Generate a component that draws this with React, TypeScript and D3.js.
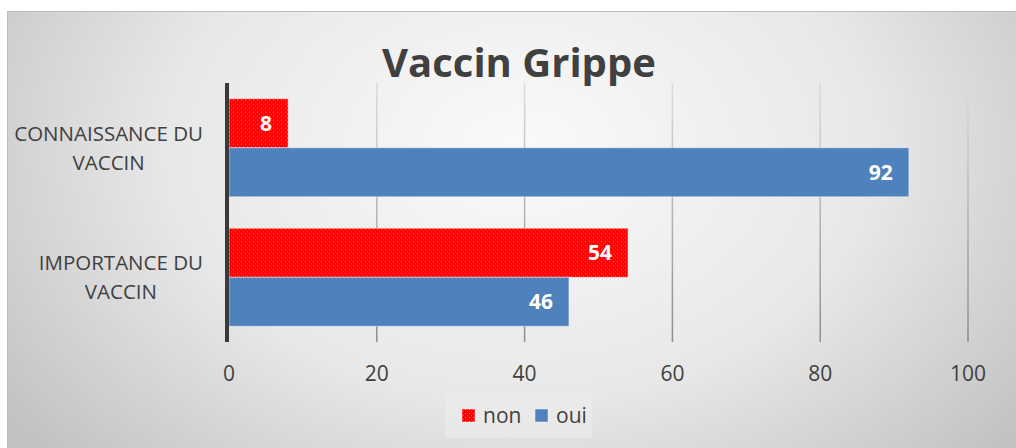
import React, { useEffect, useRef } from "react";
import * as d3 from "d3";

const categories = ["CONNAISSANCE DU VACCIN", "IMPORTANCE DU VACCIN"];
const categoryLines = [
    ["CONNAISSANCE DU", "VACCIN"],
    ["IMPORTANCE DU", "VACCIN"],
];
const seriesNames = ["non", "oui"];
const nonValues = [8, 54];
const ouiValues = [92, 46];
const xTicks = [0, 20, 40, 60, 80, 100];

const W = 1016;
const H = 448;
const FONT = "'Open Sans', sans-serif";
const TEXT = "#404040";

export default function App() {
    const ref = useRef<SVGSVGElement>(null);

    useEffect(() => {
        document.body.style.margin = "0";
        const svg = d3.select(ref.current);
        svg.selectAll("*").remove();

        const defs = svg.append("defs");

        // background gradient, light in the middle, grey on the edges
        const bg = defs
            .append("radialGradient")
            .attr("id", "bg")
            .attr("cx", "50%")
            .attr("cy", "30%")
            .attr("r", "62%")
            .attr("gradientTransform", "translate(0.5,0.3) scale(1,1.6) translate(-0.5,-0.3)");
        bg.append("stop").attr("offset", "0%").attr("stop-color", "#fafafa");
        bg.append("stop").attr("offset", "55%").attr("stop-color", "#e8e8e8");
        bg.append("stop").attr("offset", "100%").attr("stop-color", "#c2c2c2");

        // gridline gradient
        const gg = defs
            .append("linearGradient")
            .attr("id", "grid")
            .attr("gradientUnits", "userSpaceOnUse")
            .attr("x1", 0)
            .attr("x2", 0)
            .attr("y1", 83)
            .attr("y2", 342);
        gg.append("stop").attr("offset", "0%").attr("stop-color", "#dcdcdc");
        gg.append("stop").attr("offset", "100%").attr("stop-color", "#8c8c8c");

        // red dotted texture
        const pat = defs
            .append("pattern")
            .attr("id", "redTex")
            .attr("patternUnits", "userSpaceOnUse")
            .attr("width", 4)
            .attr("height", 4);
        pat.append("rect").attr("width", 4).attr("height", 4).attr("fill", "#ff0000");
        pat.append("rect").attr("x", 1).attr("y", 1).attr("width", 1).attr("height", 1).attr("fill", "#ff7070");
        pat.append("rect").attr("x", 3).attr("y", 3).attr("width", 1).attr("height", 1).attr("fill", "#ff4040");

        const colors: Record<string, string> = { non: "url(#redTex)", oui: "#4f81bd" };

        // chart area
        svg.append("rect")
            .attr("x", 7.5)
            .attr("y", 11.5)
            .attr("width", W + 10)
            .attr("height", H + 10)
            .attr("fill", "url(#bg)")
            .attr("stroke", "#bdbdbd");

        const x = d3.scaleLinear().domain([0, 100]).range([229, 968]);
        const y = d3
            .scaleBand()
            .domain(categories)
            .range([83, 342])
            .paddingInner(0.243)
            .paddingOuter(0.1216);
        const ySub = d3.scaleBand().domain(seriesNames).range([0, y.bandwidth()]);

        // title
        svg.append("text")
            .attr("x", 519)
            .attr("y", 77)
            .attr("text-anchor", "middle")
            .attr("font-family", FONT)
            .attr("font-weight", "bold")
            .attr("font-size", 40)
            .attr("fill", TEXT)
            .text("Vaccin Grippe");

        // gridlines
        svg.append("g")
            .selectAll("line")
            .data(xTicks.slice(1))
            .enter()
            .append("line")
            .attr("x1", (d) => x(d))
            .attr("x2", (d) => x(d))
            .attr("y1", 83)
            .attr("y2", 342)
            .attr("stroke", "url(#grid)")
            .attr("stroke-width", 1.5);

        // tick labels
        svg.append("g")
            .selectAll("text")
            .data(xTicks)
            .enter()
            .append("text")
            .attr("x", (d) => x(d))
            .attr("y", 381)
            .attr("text-anchor", "middle")
            .attr("font-family", FONT)
            .attr("font-size", 21)
            .attr("fill", TEXT)
            .text((d) => d);

        // bars
        const rows = categories.map((c, i) => ({
            cat: c,
            items: [
                { s: "non", v: nonValues[i] },
                { s: "oui", v: ouiValues[i] },
            ],
        }));

        const groups = svg
            .append("g")
            .selectAll("g")
            .data(rows)
            .enter()
            .append("g")
            .attr("transform", (d) => `translate(0,${y(d.cat)})`);

        groups
            .selectAll("rect")
            .data((d) => d.items)
            .enter()
            .append("rect")
            .attr("x", x(0))
            .attr("y", (d) => ySub(d.s)!)
            .attr("width", (d) => x(d.v) - x(0))
            .attr("height", ySub.bandwidth())
            .attr("fill", (d) => colors[d.s])
            .attr("stroke", "rgba(255,255,255,0.45)")
            .attr("stroke-width", 1);

        groups
            .selectAll("text")
            .data((d) => d.items)
            .enter()
            .append("text")
            .attr("x", (d) => x(d.v) - 16)
            .attr("y", (d) => ySub(d.s)! + ySub.bandwidth() / 2 + 7.5)
            .attr("text-anchor", "end")
            .attr("font-family", FONT)
            .attr("font-weight", "bold")
            .attr("font-size", 21)
            .attr("fill", "#ffffff")
            .text((d) => d.v);

        // axis line
        svg.append("line")
            .attr("x1", x(0) - 2)
            .attr("x2", x(0) - 2)
            .attr("y1", 83)
            .attr("y2", 342)
            .attr("stroke", "#3a3a3a")
            .attr("stroke-width", 4);

        // category labels, block right-aligned, lines centered
        const lineGap = 29;
        categories.forEach((c, i) => {
            const lines = categoryLines[i];
            const cy = y(c)! + y.bandwidth() / 2;
            const g = svg.append("g");
            const texts = g
                .selectAll("text")
                .data(lines)
                .enter()
                .append("text")
                .attr("y", (d, j) => cy + 7.5 + (j - (lines.length - 1) / 2) * lineGap)
                .attr("text-anchor", "middle")
                .attr("font-family", FONT)
                .attr("font-size", 20.5)
                .attr("fill", TEXT)
                .text((d) => d);
            let maxW = 0;
            texts.each(function () {
                maxW = Math.max(maxW, (this as SVGTextElement).getComputedTextLength());
            });
            texts.attr("x", 203 - maxW / 2);
        });

        // legend
        const legend = svg.append("g");
        legend
            .append("rect")
            .attr("x", 445)
            .attr("y", 393)
            .attr("width", 147)
            .attr("height", 45)
            .attr("fill", "#ededed")
            .attr("opacity", 0.6);
        const legendX = [462, 535];
        seriesNames.forEach((s, i) => {
            legend
                .append("rect")
                .attr("x", legendX[i])
                .attr("y", 409)
                .attr("width", 13)
                .attr("height", 13)
                .attr("fill", colors[s])
                .attr("stroke", "rgba(255,255,255,0.45)");
            legend
                .append("text")
                .attr("x", legendX[i] + 21)
                .attr("y", 423)
                .attr("font-family", FONT)
                .attr("font-size", 21)
                .attr("fill", TEXT)
                .text(s);
        });
    }, []);

    return <svg ref={ref} width={W} height={H} style={{ display: "block" }}></svg>;
}
